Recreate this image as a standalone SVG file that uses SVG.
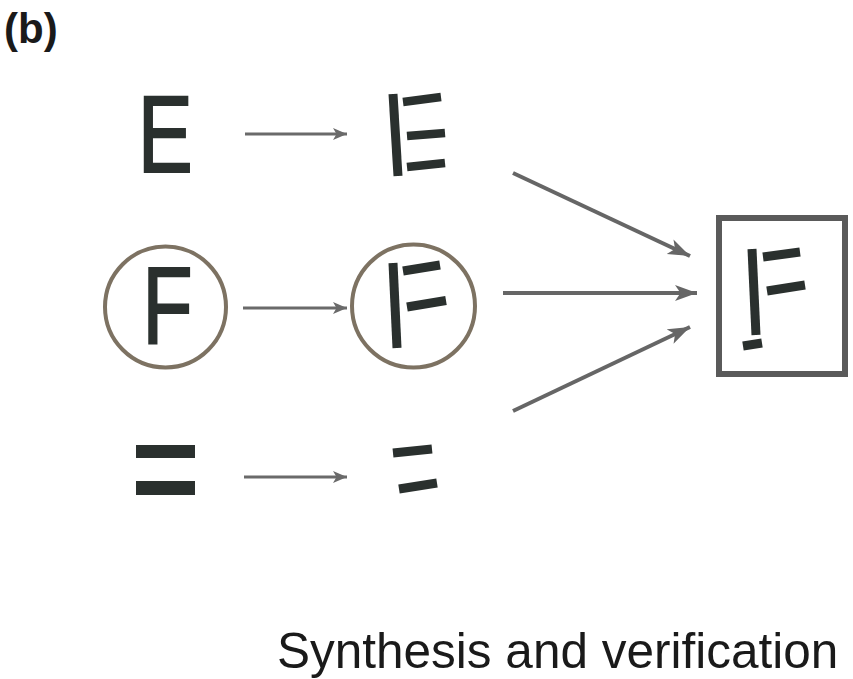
<svg xmlns="http://www.w3.org/2000/svg" width="853" height="679" viewBox="0 0 853 679">
<style>
.lbl{font-family:"Liberation Sans",Arial,sans-serif;fill:#1a1a1a}
.glyph{font-family:"Liberation Sans",Arial,sans-serif;font-size:110px;fill:#2a302e;stroke:#2a302e;stroke-width:2}
.seg{stroke:#2a302e;stroke-width:9;stroke-linecap:butt;fill:none}
.ring{fill:none;stroke:#7d7262;stroke-width:4}
.small{stroke:#6a6a6a;stroke-width:3;fill:none}
.big{stroke:#666;stroke-width:4;fill:none}
</style>
<defs>
<marker id="hs" markerUnits="userSpaceOnUse" markerWidth="15" markerHeight="13" refX="14" refY="6" orient="auto">
<path d="M0,0 L14,6 L0,12 L3.5,6 z" fill="#6a6a6a"/>
</marker>
<marker id="hb" markerUnits="userSpaceOnUse" markerWidth="23" markerHeight="17" refX="22" refY="8" orient="auto">
<path d="M0,0 L22,8 L0,16 L5.5,8 z" fill="#666"/>
</marker>
</defs>
<rect width="853" height="679" fill="#fff"/>
<text class="lbl" x="4" y="43" font-size="42" font-weight="bold">(b)</text>

<g id="node-E">
<text class="glyph" transform="translate(137.7,172) scale(0.75,1)">E</text>
</g>
<g id="node-E-distorted">
<line class="seg" x1="393" y1="94" x2="398" y2="176"/>
<line class="seg" x1="403" y1="102" x2="441" y2="97" style="stroke-width:8.5"/>
<line class="seg" x1="407" y1="136" x2="445" y2="133" style="stroke-width:8.5"/>
<line class="seg" x1="407" y1="167" x2="445" y2="163" style="stroke-width:8.5"/>
</g>

<g id="node-F">
<circle class="ring" cx="165.5" cy="307" r="60.5"/>
<text class="glyph" transform="translate(142.2,344) scale(0.75,1)">F</text>
</g>
<g id="node-F-distorted">
<circle class="ring" cx="413.5" cy="306" r="61.5"/>
<line class="seg" x1="393" y1="263" x2="397" y2="348"/>
<line class="seg" x1="403" y1="271" x2="440" y2="265"/>
<line class="seg" x1="407" y1="307" x2="446" y2="300.5"/>
</g>

<g id="node-bars">
<rect x="136" y="445" width="59" height="13" fill="#2a302e"/>
<rect x="136" y="481" width="59" height="14" fill="#2a302e"/>
</g>
<g id="node-bars-distorted">
<line class="seg" x1="393" y1="453" x2="432" y2="449"/>
<line class="seg" x1="399" y1="489" x2="437" y2="483"/>
</g>

<g id="node-result">
<rect x="719" y="218" width="126" height="156" fill="none" stroke="#5a5a5a" stroke-width="6"/>
<line class="seg" x1="752" y1="249" x2="756" y2="335"/>
<line class="seg" x1="763" y1="257" x2="800" y2="252"/>
<line class="seg" x1="767" y1="291" x2="805" y2="285"/>
<line class="seg" x1="743" y1="346" x2="762" y2="343"/>
</g>

<g id="connectors">
<line class="small" x1="245" y1="134" x2="347" y2="134" marker-end="url(#hs)"/>
<line class="small" x1="243" y1="308" x2="347" y2="308" marker-end="url(#hs)"/>
<line class="small" x1="244" y1="477" x2="347" y2="477" marker-end="url(#hs)"/>
<line class="big" x1="513" y1="173" x2="690" y2="256" marker-end="url(#hb)"/>
<line class="big" x1="503" y1="293" x2="697" y2="293" marker-end="url(#hb)"/>
<line class="big" x1="513" y1="411" x2="690" y2="327" marker-end="url(#hb)"/>
</g>

<text class="lbl" x="277" y="668" font-size="49.5">Synthesis and verification</text>
</svg>
